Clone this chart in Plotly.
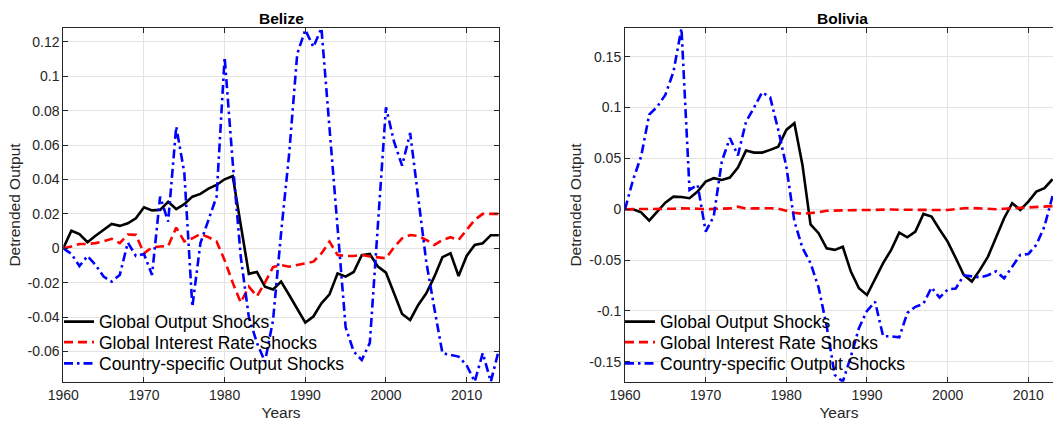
import plotly.graph_objects as go

# ---------------------------------------------------------------- data
years_belize = list(range(1960, 2015))
years_bolivia = list(range(1960, 2014))

belize_global_output = [
    0.0, 0.0102, 0.0083, 0.0035, 0.0073, 0.0106, 0.0141, 0.0130, 0.0145, 0.0174,
    0.0238, 0.0220, 0.0223, 0.0270, 0.0228, 0.0256, 0.0300, 0.0316, 0.0347, 0.0368,
    0.0401, 0.0420, 0.0126, -0.0149, -0.0138, -0.0223, -0.0240, -0.0194, -0.0272, -0.0355,
    -0.0432, -0.0397, -0.0320, -0.0268, -0.0146, -0.0165, -0.0138, -0.0040, -0.0033, -0.0107,
    -0.0142, -0.0262, -0.0382, -0.0417, -0.0330, -0.0262, -0.0165, -0.0052, -0.0029, -0.0161,
    -0.0045, 0.0019, 0.0029, 0.0076, 0.0076,
]
belize_interest_rate = [
    0.0, 0.0010, 0.0025, 0.0025, 0.0030, 0.0040, 0.0055, 0.0030, 0.0080, 0.0078,
    -0.0030, 0.0005, 0.0010, 0.0013, 0.0120, 0.0040, 0.0058, 0.0083, 0.0064, 0.0040,
    -0.0070, -0.0200, -0.0316, -0.0223, -0.0280, -0.0200, -0.0110, -0.0097, -0.0107, -0.0097,
    -0.0091, -0.0078, -0.0030, 0.0039, -0.0039, -0.0045, -0.0045, -0.0039, -0.0048, -0.0054,
    -0.0058, 0.0006, 0.0058, 0.0077, 0.0071, 0.0048, 0.0019, 0.0048, 0.0064, 0.0048,
    0.0106, 0.0165, 0.0200, 0.0200, 0.0200,
]
belize_country_output = [
    0.0, -0.0033, -0.0103, -0.0045, -0.0097, -0.0165, -0.0194, -0.0155, 0.0033, -0.0045,
    -0.0033, -0.0155, 0.0300, 0.0155, 0.0707, 0.0440, -0.0340, 0.0030, 0.0165, 0.0300,
    0.1110, 0.0500, -0.0050, -0.0400, -0.0550, -0.0660, -0.0420, 0.0090, 0.0550, 0.1130,
    0.1270, 0.1170, 0.1280, 0.0700, 0.0100, -0.0460, -0.0600, -0.0650, -0.0550, 0.0150,
    0.0820, 0.0620, 0.0480, 0.0670, 0.0280, -0.0080, -0.0350, -0.0610, -0.0620, -0.0630,
    -0.0680, -0.0776, -0.0610, -0.0776, -0.0590,
]

bolivia_global_output = [
    0.0, 0.0, -0.0030, -0.0112, -0.0023, 0.0065, 0.0124, 0.0120, 0.0108, 0.0173,
    0.0272, 0.0305, 0.0288, 0.0311, 0.0410, 0.0577, 0.0557, 0.0557, 0.0584, 0.0616,
    0.0780, 0.0846, 0.0436, -0.0150, -0.0236, -0.0384, -0.0400, -0.0370, -0.0614, -0.0778,
    -0.0844, -0.0680, -0.0530, -0.0400, -0.0230, -0.0276, -0.0220, -0.0046, -0.0072, -0.0200,
    -0.0319, -0.0480, -0.0647, -0.0712, -0.0597, -0.0466, -0.0286, -0.0089, 0.0059, -0.0007,
    0.0075, 0.0173, 0.0207, 0.0295,
]
bolivia_interest_rate = [
    0.0, 0.0, 0.0, 0.0, 0.0, 0.0005, 0.0005, 0.0008, 0.0008, 0.0005,
    0.0, 0.0003, 0.0005, 0.0008, 0.0025, 0.0005, 0.0008, 0.0010, 0.0010, 0.0005,
    -0.0015, -0.0035, -0.0045, -0.0040, -0.0030, -0.0015, -0.0012, -0.0010, -0.0010, -0.0008,
    -0.0008, -0.0005, 0.0, -0.0003, -0.0005, -0.0005, -0.0003, -0.0005, -0.0008, -0.0010,
    -0.0008, 0.0, 0.0010, 0.0012, 0.0008, 0.0003, 0.0, 0.0005, 0.0010, 0.0015,
    0.0020, 0.0025, 0.0030, 0.0030,
]
bolivia_country_output = [
    0.0, 0.0290, 0.0520, 0.0930, 0.1010, 0.1125, 0.1350, 0.1780, 0.0190, 0.0240,
    -0.0220, -0.0070, 0.0470, 0.0700, 0.0530, 0.0860, 0.1000, 0.1150, 0.1100, 0.0780,
    0.0420, -0.0120, -0.0380, -0.0530, -0.0770, -0.1150, -0.1630, -0.1697, -0.1450, -0.1170,
    -0.1000, -0.0910, -0.1250, -0.1250, -0.1260, -0.1020, -0.0960, -0.0930, -0.0770, -0.0870,
    -0.0790, -0.0780, -0.0650, -0.0660, -0.0670, -0.0650, -0.0610, -0.0680, -0.0560, -0.0450,
    -0.0440, -0.0350, -0.0170, 0.0130,
]

series_names = ["Global Output Shocks", "Global Interest Rate Shocks",
                "Country-specific Output Shocks"]

x_tick_values = [1960, 1970, 1980, 1990, 2000, 2010]
x_tick_labels = ["1960", "1970", "1980", "1990", "2000", "2010"]

belize_y_ticks = [-0.06, -0.04, -0.02, 0.0, 0.02, 0.04, 0.06, 0.08, 0.1, 0.12]
belize_y_labels = ["-0.06", "-0.04", "-0.02", "0", "0.02", "0.04", "0.06", "0.08", "0.1", "0.12"]
bolivia_y_ticks = [-0.15, -0.1, -0.05, 0.0, 0.05, 0.1, 0.15]
bolivia_y_labels = ["-0.15", "-0.1", "-0.05", "0", "0.05", "0.1", "0.15"]

# ---------------------------------------------------------------- styling
W, H = 1053, 421
FONT = "Liberation Sans, Arial, Helvetica, sans-serif"
AXIS_COLOR = "#262626"
GRID_COLOR = "#e3e3e3"
LINE_W = 2.6
styles = [
    dict(color="#000000", width=LINE_W, dash="solid"),
    dict(color="#ff0000", width=LINE_W, dash="9px,5px"),
    dict(color="#0000ff", width=LINE_W, dash="9px,4px,2.5px,4px"),
]
legend_rows_px = [321.7, 342.3, 363.5]


def px_x(p):
    return p / W


def px_y(p):
    return 1 - p / H


fig = go.Figure()

# one legend per series so each row sits at its own height inside the axes
panels = [
    ("x", "y", 59, years_belize,
     [belize_global_output, belize_interest_rate, belize_country_output]),
    ("x2", "y2", 620, years_bolivia,
     [bolivia_global_output, bolivia_interest_rate, bolivia_country_output]),
]
legends = {}
k = 0
for xa, ya, leg_x, yrs, series in panels:
    for name, vals, st, row in zip(series_names, series, styles, legend_rows_px):
        k += 1
        key = "legend" if k == 1 else f"legend{k}"
        fig.add_trace(go.Scatter(
            x=yrs, y=vals, mode="lines", name=name, line=st,
            xaxis=xa, yaxis=ya, legend=key, showlegend=True,
        ))
        legends[key] = dict(
            x=px_x(leg_x), xanchor="left", y=px_y(row), yanchor="middle",
            bgcolor="rgba(0,0,0,0)", borderwidth=0,
            font=dict(family=FONT, size=17.5, color="#000000"),
        )

y_dom = [px_y(381.7), px_y(28.3)]

common_axis = dict(
    showline=True, linecolor=AXIS_COLOR, linewidth=1, automargin=False,
    showgrid=True, gridcolor=GRID_COLOR, gridwidth=1,
    zeroline=False, ticks="inside", ticklen=5, tickcolor=AXIS_COLOR,
    tickfont=dict(family=FONT, size=14, color=AXIS_COLOR),
    title_font=dict(family=FONT, size=15.5, color=AXIS_COLOR),
)

fig.update_layout(
    width=W, height=H, autosize=False,
    margin=dict(l=0, r=0, t=0, b=0),
    paper_bgcolor="white", plot_bgcolor="white",
    font=dict(family=FONT, color=AXIS_COLOR),
    xaxis=dict(common_axis, domain=[px_x(63.3), px_x(498.9)], range=[1960, 2014],
               tickvals=x_tick_values, ticktext=x_tick_labels, mirror="ticks",
               anchor="y", title=dict(text="Years", standoff=5)),
    yaxis=dict(common_axis, domain=y_dom, range=[-0.0776, 0.1279],
               tickvals=belize_y_ticks, ticktext=belize_y_labels, mirror="ticks",
               anchor="x", title=dict(text="Detrended Output", standoff=3)),
    xaxis2=dict(common_axis, domain=[px_x(625), 1.0], range=[1960, 2013.06],
                tickvals=x_tick_values, ticktext=x_tick_labels, mirror="ticks",
                anchor="y2", title=dict(text="Years", standoff=5)),
    yaxis2=dict(common_axis, domain=y_dom, range=[-0.1697, 0.178],
                tickvals=bolivia_y_ticks, ticktext=bolivia_y_labels, mirror=False,
                anchor="x2", title=dict(text="Detrended Output", standoff=3)),
    annotations=[
        dict(text="<b>Belize</b>", x=px_x(281), y=px_y(18), xref="paper", yref="paper",
             xanchor="center", yanchor="middle", showarrow=False,
             font=dict(family=FONT, size=15.5, color="#000000")),
        dict(text="<b>Bolivia</b>", x=px_x(842.7), y=px_y(18), xref="paper", yref="paper",
             xanchor="center", yanchor="middle", showarrow=False,
             font=dict(family=FONT, size=15.5, color="#000000")),
    ],
    **legends,
)

fig.write_html("out.html")
